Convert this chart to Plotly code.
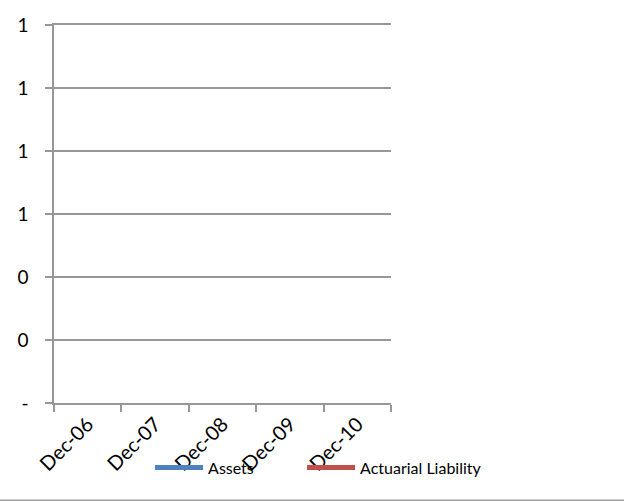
import plotly.graph_objects as go

categories = ["Dec-06", "Dec-07", "Dec-08", "Dec-09", "Dec-10"]
assets = [None, None, None, None, None]
actuarial_liability = [None, None, None, None, None]
y_tick_values = [0, 0.2, 0.4, 0.6, 0.8, 1.0, 1.2]
y_tick_labels = ["-", "0", "0", "1", "1", "1", "1"]

FONT = "Lato, Carlito, Calibri, sans-serif"
GRID = "#979797"

fig = go.Figure()
fig.add_trace(go.Scatter(x=categories, y=assets, name="Assets", mode="lines",
                         line=dict(color="#4F81BD", width=5), legend="legend"))
fig.add_trace(go.Scatter(x=categories, y=actuarial_liability, name="Actuarial Liability",
                         mode="lines", line=dict(color="#C0504D", width=5), legend="legend2"))

legend_common = dict(orientation="h", xanchor="left", yanchor="middle", y=-0.171,
                     font=dict(size=16, family=FONT, color="#000000"),
                     bgcolor="rgba(0,0,0,0)", itemwidth=48)

fig.update_layout(
    width=624, height=501,
    margin=dict(l=54, r=233, t=25, b=98, pad=0),
    paper_bgcolor="white", plot_bgcolor="white",
    font=dict(family=FONT, color="#000000"),
    showlegend=True,
    legend=dict(x=0.285, **legend_common),
    legend2=dict(x=0.736, **legend_common),
    xaxis=dict(type="category", categoryorder="array", categoryarray=categories,
               range=[-0.5, 4.5], tickson="boundaries", ticks="outside", ticklen=7,
               tickcolor=GRID, tickwidth=1.5, showline=True, linecolor=GRID, linewidth=1.5,
               mirror=True, showgrid=False, zeroline=False, tickangle=-45,
               tickfont=dict(size=20, family=FONT, color="#000000")),
    yaxis=dict(range=[0, 1.2], tickmode="array", tickvals=y_tick_values, ticktext=y_tick_labels,
               ticks="outside", ticklen=7, tickcolor=GRID, tickwidth=1.5,
               showline=True, linecolor=GRID, linewidth=1.5,
               showgrid=True, gridcolor=GRID, gridwidth=1.5, zeroline=False,
               ticklabelstandoff=13,
               tickfont=dict(size=19, family=FONT, color="#000000")),
)

fig.add_shape(type="line", xref="paper", yref="paper", x0=-0.2, x1=1.8,
              y0=-0.2575, y1=-0.2575, line=dict(color="#a0a0a0", width=1.5))

fig.write_html("out.html")
